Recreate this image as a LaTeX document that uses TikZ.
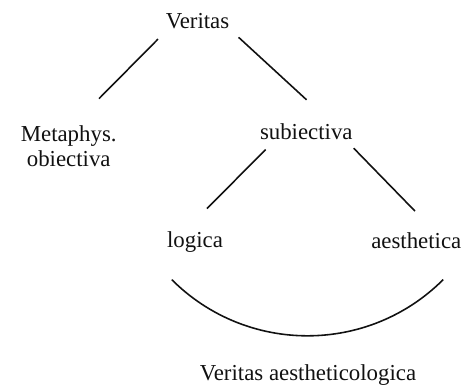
\documentclass[tikz,border=0pt]{standalone}
\usepackage{fontspec}
\setmainfont{Liberation Serif}
\definecolor{ink}{HTML}{111111}

\begin{document}
\begin{tikzpicture}[x=0.02cm, y=-0.02cm,
  term/.style={text=ink, font=\fontsize{13}{14.2}\selectfont, inner sep=0pt, anchor=base},
  branch/.style={ink, line width=0.9pt}]

% Background
\useasboundingbox (0,0) rectangle (463,385);
\fill[white] (0,0) rectangle (463,385);

% ============================================================
% Terms of the division
% ============================================================
\node[term] (veritas) at (197.5,29) {Veritas};
\node[term, anchor=north, align=center] (meta) at (68.7,125.5) {Metaphys.\\obiectiva};
\node[term] (subiectiva) at (306.3,139.5) {subiectiva};
\node[term] (logica) at (195,247.7) {logica};
\node[term] (aesthetica) at (416.3,248) {aesthetica};
\node[term] (synthesis) at (308,380) {Veritas aestheticologica};

% ============================================================
% Branches
% ============================================================
\draw[branch, shorten <=7.5pt, shorten >=21.5pt] (veritas.195) -- (meta.80);
\draw[branch, shorten <=7pt, shorten >=19.8pt] (veritas.347) -- (subiectiva.18);
\draw[branch, shorten <=7.6pt, shorten >=18.4pt] (subiectiva.195) -- (logica.135);
\draw[branch, shorten <=6.5pt, shorten >=16.4pt] (subiectiva.348) -- (aesthetica.24);

% Bow joining logica and aesthetica
\draw[branch] (logica.south) ++(-23.3,26.6) arc[start angle=135, end angle=45, radius=192];

\end{tikzpicture}
\end{document}
